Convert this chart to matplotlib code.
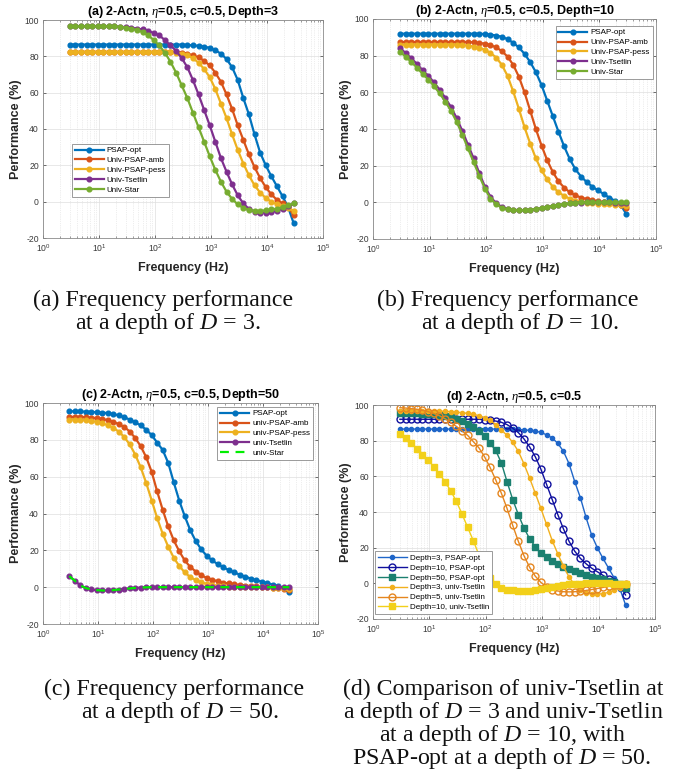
import numpy as np
import matplotlib
matplotlib.use("Agg")
import matplotlib.pyplot as plt
from matplotlib.ticker import FixedLocator, LogLocator, NullFormatter

plt.rcParams['font.family'] = ['Liberation Sans', 'DejaVu Sans']
plt.rcParams['mathtext.fontset'] = 'custom'
plt.rcParams['mathtext.rm'] = 'Liberation Sans'
plt.rcParams['mathtext.it'] = 'Liberation Serif:italic'
plt.rcParams['mathtext.bf'] = 'Liberation Sans:bold'
plt.rcParams['axes.unicode_minus'] = False

# ---------------------------------------------------------------- data
FREQ = [3.0, 3.78, 4.75, 5.99, 7.54, 9.49, 11.9, 15.0, 18.9, 23.8,
        30.0, 37.8, 47.5, 59.9, 75.4, 94.9, 119, 150, 189, 238,
        300, 378, 475, 599, 754, 949, 1194, 1503, 1893, 2383,
        3000, 3777, 4755, 5986, 7536, 9487, 11943, 15036, 18929, 23830,
        30000]

# Depth = 3
A_PSAP_OPT = [86.5] * 21 + [86.3, 86, 85.8, 85.4, 84.6, 83.3, 81.5, 78.5, 74, 67,
                            57, 48, 37, 27, 20, 14, 8.5, 3, -3, -12]
A_UNIV_AMB = [82.5] * 20 + [82, 81.5, 80.5, 79.5, 77.5, 75, 71, 66, 59, 51, 42,
                            34, 26, 19, 13, 8, 4, 1, -1, -3, -7.5]
A_UNIV_PESS = [82.5] * 19 + [82, 81.5, 80.5, 79, 76.5, 73, 68.5, 62, 54, 46, 37,
                             28.5, 21, 14.5, 9, 5, 2, 0, -1.5, -2.5, -3.5, -5]
A_UNIV_TSETLIN = [96.5] * 9 + [96.3, 96, 95.7, 95.3, 94.8, 94, 92.8, 91.5, 89, 86,
                               83, 79, 74, 67, 59, 50.5, 42, 33, 24, 16.5, 9.5,
                               3.5, -1, -4, -5.5, -6, -6, -5.8, -5, -4, -2.5, -1]
A_UNIV_STAR = [96.5] * 9 + [96.2, 95.8, 95.3, 94.5, 93.3, 91.5, 89, 86, 82, 77,
                            71, 64, 57, 49, 41, 33, 25, 17.5, 11, 5.5, 1.5,
                            -1.5, -3.5, -4.5, -5, -5, -4.8, -4.3, -3.8, -3, -2, -1]

# Depth = 10
B_PSAP_OPT = [92] * 15 + [91.8, 91.5, 91, 90.3, 89, 87, 84.5, 81, 76.5, 71, 64,
                          55.5, 47, 38.5, 30.5, 23.5, 18, 14, 11, 8.5, 6.5, 4.5,
                          2.5, 0.8, -1.5, -6.5]
B_UNIV_AMB = [87.5] * 13 + [87.3, 87, 86.5, 85.8, 84.5, 82.5, 79.5, 75, 68.5, 60,
                            50, 40, 31, 23, 16.5, 11.5, 8, 5.5, 3.8, 2.6, 1.8,
                            1.2, 0.6, 0.2, -0.3, -0.8, -1.5, -3]
B_UNIV_PESS = [86] * 11 + [85.8, 85.5, 85, 84.3, 83.2, 81.5, 79, 75, 69, 60.5,
                           51, 41, 32, 24, 17.5, 12.5, 8.5, 5.5, 3.5, 2, 1, 0.3,
                           -0.2, -0.5, -0.7, -0.9, -1, -1.2, -1.5, -2]
B_UNIV_TSETLIN = [84, 81.5, 78.5, 75.5, 72, 69, 65.5, 61.5, 57, 52, 46, 39, 31.5,
                  24, 16, 8.5, 3, -0.5, -2.5, -3.5, -4, -4.3, -4.3, -4.1, -3.7,
                  -3.2, -2.6, -2, -1.5, -1, -0.6, -0.3, -0.1, 0, 0, 0, 0, 0,
                  -0.2, -0.3, -0.5]
B_UNIV_STAR = [82, 79.5, 76.5, 73.5, 70, 67, 63.5, 59.5, 55, 50, 44, 37, 29.5,
               22, 14.5, 7.5, 2, -1, -3, -3.8, -4.2, -4.4, -4.3, -4, -3.6, -3.1,
               -2.5, -1.9, -1.4, -0.9, -0.5, -0.2, 0, 0, 0, 0, 0, 0, 0, 0, 0]

# Depth = 50
C_PSAP_OPT = [95.5, 95.5, 95.4, 95.3, 95.2, 95, 94.8, 94.5, 94, 93.3, 92.3, 91,
              89.5, 87.8, 85.5, 82.5, 78.5, 74.5, 67.5, 57, 47, 38.5, 31, 25,
              20.5, 17, 14.5, 12.5, 10.8, 9.3, 8, 6.8, 5.7, 4.7, 3.8, 3, 2.2,
              1.4, 0.6, -0.5, -2.8]
C_UNIV_AMB = [92.5, 92.5, 92.5, 92.3, 92.1, 91.8, 91.3, 90.7, 89.8, 88.5, 87,
              84.5, 81, 76.5, 70.5, 62.5, 52, 42, 33, 25.5, 19.5, 14.5, 11, 8.5,
              6.5, 5, 4, 3.2, 2.5, 2, 1.6, 1.2, 0.9, 0.6, 0.4, 0.2, 0, -0.2,
              -0.5, -0.8, -1.5]
C_UNIV_PESS = [91, 91, 90.8, 90.6, 90.3, 89.8, 89, 88, 86.5, 84.5, 81.5, 77.5,
               72, 65, 56.5, 47, 37.5, 29, 22, 16, 11.5, 8, 5.5, 3.8, 2.6, 1.8,
               1.2, 0.8, 0.5, 0.3, 0.2, 0.1, 0, 0, 0, 0, 0, -0.2, -0.4, -0.7,
               -1.2]
C_UNIV_TSETLIN = [6, 3.5, 1, -0.5, -1.2, -1.6, -1.8, -1.8, -1.6, -1.3, -1, -0.7,
                  -0.4, -0.2, -0.1] + [0] * 26
C_UNIV_STAR = [6, 3.5, 1, -0.5, -1.2, -1.6, -1.8, -1.8, -1.6, -1.3, -1, -0.7,
               -0.4, -0.2, -0.1] + [0] * 26

# Depth = 5 (comparison panel only)
D5_UNIV_TSETLIN = [98.5, 98.3, 98, 97.6, 97, 96.3, 95.3, 94, 92.3, 90.3, 88,
                   85.5, 83, 79.5, 76, 71, 65, 58, 50.5, 42, 32.5, 23.5, 15.5,
                   9, 4, 0.5, -2, -3.5, -4.3, -4.7, -4.8, -4.7, -4.4, -4, -3.5,
                   -2.9, -2.3, -1.7, -1.2, -0.8, -0.5]

X_TICKS = [1, 10, 100, 1000, 10000, 100000]
Y_TICKS = [-20, 0, 20, 40, 60, 80, 100]

MATLAB = ['#0072BD', '#D95319', '#EDB120', '#7E2F8E', '#77AC30']

# ---------------------------------------------------------------- figure
W, H = 683, 778
fig = plt.figure(figsize=(W / 100, H / 100), dpi=100)


def px_axes(left, top, right, bottom):
    return fig.add_axes([left / W, 1 - bottom / H, (right - left) / W, (bottom - top) / H])


def style(ax, title):
    ax.set_xscale('log')
    ax.set_xlim(X_TICKS[0], X_TICKS[-1])
    ax.set_ylim(Y_TICKS[0], Y_TICKS[-1])
    ax.xaxis.set_major_locator(FixedLocator(X_TICKS))
    ax.xaxis.set_minor_locator(LogLocator(base=10, subs=np.arange(2, 10)))
    ax.xaxis.set_minor_formatter(NullFormatter())
    ax.set_yticks(Y_TICKS)
    ax.set_axisbelow(True)
    ax.grid(True, which='major', color='#dedede', lw=0.5)
    ax.grid(True, which='minor', axis='x', color='#dcdcdc', lw=0.5, ls=':')
    ax.tick_params(which='major', direction='in', top=True, right=True,
                   length=2.5, width=0.5, labelsize=6.2, colors='#3a3a3a', pad=3)
    ax.tick_params(which='minor', direction='in', top=True, length=1.5, width=0.4,
                   colors='#555555')
    for s in ax.spines.values():
        s.set_color('#8a8a8a')
        s.set_linewidth(0.6)
    ax.set_title(title, fontsize=9, fontweight='bold', pad=3)
    ax.set_xlabel('Frequency (Hz)', fontsize=9, fontweight='bold', labelpad=6, color='#262626')
    ax.set_ylabel('Performance (%)', fontsize=9, fontweight='bold', labelpad=2, color='#262626')


def legend(ax, loc, anchor):
    leg = ax.legend(loc=loc, bbox_to_anchor=anchor, borderaxespad=0, fontsize=5.8,
                    handlelength=3.6, handletextpad=0.4, labelspacing=0.28,
                    borderpad=0.35, fancybox=False, framealpha=1,
                    edgecolor='#8a8a8a')
    leg.get_frame().set_linewidth(0.6)
    return leg


line_kw = dict(lw=1.6, marker='o', ms=3.4)

# (a) Depth = 3
ax = px_axes(43, 20, 323, 238)
for ys, lab, c in zip([A_PSAP_OPT, A_UNIV_AMB, A_UNIV_PESS, A_UNIV_TSETLIN, A_UNIV_STAR],
                      ['PSAP-opt', 'Univ-PSAP-amb', 'Univ-PSAP-pess', 'Univ-Tsetlin', 'Univ-Star'],
                      MATLAB):
    ax.plot(FREQ, ys, color=c, label=lab, **line_kw)
style(ax, r'(a) 2-Actn, $\eta$=0.5, c=0.5, Depth=3')
legend(ax, 'lower left', (0.1025, 0.189))

# (b) Depth = 10
ax = px_axes(373, 19, 656, 239)
for ys, lab, c in zip([B_PSAP_OPT, B_UNIV_AMB, B_UNIV_PESS, B_UNIV_TSETLIN, B_UNIV_STAR],
                      ['PSAP-opt', 'Univ-PSAP-amb', 'Univ-PSAP-pess', 'Univ-Tsetlin', 'Univ-Star'],
                      MATLAB):
    ax.plot(FREQ, ys, color=c, label=lab, **line_kw)
style(ax, r'(b) 2-Actn, $\eta$=0.5, c=0.5, Depth=10')
legend(ax, 'upper right', (0.989, 0.968))

# (c) Depth = 50
ax = px_axes(43, 403, 318, 624)
for ys, lab, c in zip([C_PSAP_OPT, C_UNIV_AMB, C_UNIV_PESS, C_UNIV_TSETLIN],
                      ['PSAP-opt', 'univ-PSAP-amb', 'univ-PSAP-pess', 'univ-Tsetlin'],
                      MATLAB):
    ax.plot(FREQ, ys, color=c, label=lab, **line_kw)
ax.plot(FREQ, C_UNIV_STAR, color='#00ee00', lw=1.6, ls=(0, (4, 3)), label='univ-Star')
style(ax, r'(c) 2-Actn, $\eta$=0.5, c=0.5, Depth=50')
legend(ax, 'upper right', (0.982, 0.982))

# (d) comparison across depths
ax = px_axes(373, 405, 655, 619)
ax.plot(FREQ, A_PSAP_OPT, color='#1f66c9', lw=1.0, marker='o', ms=3.0,
        label='Depth=3, PSAP-opt')
ax.plot(FREQ, B_PSAP_OPT, color='#10109e', lw=1.0, marker='o', ms=5.0, mfc='none',
        mew=1.0, label='Depth=10, PSAP-opt')
ax.plot(FREQ, C_PSAP_OPT, color='#1b8070', lw=1.0, marker='s', ms=3.8,
        label='Depth=50, PSAP-opt')
ax.plot(FREQ, A_UNIV_TSETLIN, color='#f2b01e', lw=1.0, marker='o', ms=3.0,
        label='Depth=3, univ-Tsetlin')
ax.plot(FREQ, D5_UNIV_TSETLIN, color='#e5861f', lw=1.0, marker='o', ms=5.0,
        mfc='none', mew=1.0, label='Depth=5, univ-Tsetlin')
ax.plot(FREQ, B_UNIV_TSETLIN, color='#f2d01a', lw=1.0, marker='s', ms=3.8,
        label='Depth=10, univ-Tsetlin')
style(ax, r'(d) 2-Actn, $\eta$=0.5, c=0.5')
legend(ax, 'lower left', (0.007, 0.023))

# ---------------------------------------------------------------- captions
CAPTIONS = [
    (163, 306, '(a) Frequency performance'),
    (168, 329, r'at a depth of $D$ = 3.'),
    (508, 306, '(b) Frequency performance'),
    (520, 329, r'at a depth of $D$ = 10.'),
    (174, 695, '(c) Frequency performance'),
    (180, 718, r'at a depth of $D$ = 50.'),
    (503, 695, '(d) Comparison of univ-Tsetlin at'),
    (503, 718, r'a depth of $D$ = 3 and univ-Tsetlin'),
    (503, 741, r'at a depth of $D$ = 10, with'),
    (502, 764, r'PSAP-opt at a depth of $D$ = 50.'),
]
for x, y, s in CAPTIONS:
    fig.text(x / W, 1 - y / H, s, ha='center', va='baseline', fontsize=17.2,
             family='Liberation Serif', color='#111111')

fig.savefig('out.png', dpi=100)
